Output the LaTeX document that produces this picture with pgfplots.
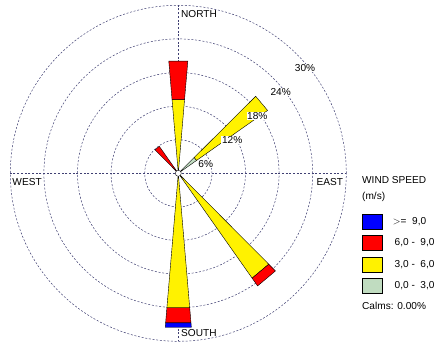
\documentclass[border=0pt]{standalone}
\usepackage{fontspec}
\setmainfont{Liberation Sans}
\usepackage{pgfplots}
\pgfplotsset{compat=1.18}
\usepgfplotslibrary{polar}
\definecolor{gridc}{RGB}{64,64,115}
\definecolor{calmgreen}{RGB}{192,220,192}
\begin{document}
\begin{tikzpicture}[font=\fontsize{10.1bp}{11.5bp}\selectfont]
\begin{polaraxis}[
  width=336bp, height=336bp, scale only axis,
  ymin=0, ymax=30, xmin=0, xmax=360,
  xtick={0,90,180,270}, ytick={6,12,18,24,30},
  xticklabels={}, yticklabels={},
  major tick length=0pt,
  grid=major,
  major grid style={gridc, line width=0.5bp, dash pattern=on 2bp off 1.7bp},
  axis line style={draw=none},
  clip=false,
  wedge/.style={draw=black, line width=0.4bp, forget plot},
  legend image code/.code={\draw[#1, draw=black, line width=0.5bp] (0bp,-7.5bp) rectangle (20.3bp,7.5bp);},
  legend style={at={(axis description cs:1.0467,0.3789)}, anchor=north west, draw=none, fill=none,
    inner sep=0pt, row sep=5.7bp, column sep=10bp, cells={anchor=west},
    nodes={inner sep=0pt, font=\fontsize{10.1bp}{11.5bp}\selectfont}},
]
% North (compass 0)
\addplot[wedge, fill=yellow] coordinates {(85.15,0) (85.15,13.2) (94.85,13.2) (94.85,0)} -- cycle;
\addplot[wedge, fill=red] coordinates {(85.15,13.2) (85.15,20.1) (94.85,20.1) (94.85,13.2)} -- cycle;
% compass 50
\addplot[wedge, fill=calmgreen] coordinates {(35.15,0) (35.15,4.0) (44.85,4.0) (44.85,0)} -- cycle;
\addplot[wedge, fill=yellow] coordinates {(35.15,4.0) (35.15,19.5) (44.85,19.5) (44.85,4.0)} -- cycle;
% compass 320
\addplot[wedge, fill=red] coordinates {(125.15,0) (125.15,5.9) (134.85,5.9) (134.85,0)} -- cycle;
% compass 140
\addplot[wedge, fill=yellow] coordinates {(305.15,0) (305.15,22.9) (314.85,22.9) (314.85,0)} -- cycle;
\addplot[wedge, fill=red] coordinates {(305.15,22.9) (305.15,24.6) (314.85,24.6) (314.85,22.9)} -- cycle;
% South (compass 180)
\addplot[wedge, fill=yellow] coordinates {(265.15,0) (265.15,24.1) (274.85,24.1) (274.85,0)} -- cycle;
\addplot[wedge, fill=red] coordinates {(265.15,24.1) (265.15,26.8) (274.85,26.8) (274.85,24.1)} -- cycle;
\addplot[wedge, fill=blue] coordinates {(265.15,26.8) (265.15,27.6) (274.85,27.6) (274.85,26.8)} -- cycle;
% calm circle
\addplot[only marks, mark=*, mark size=3bp, mark options={fill=white, draw=black, line width=0.4bp}, forget plot] coordinates {(0,0)};
\addlegendimage{fill=blue}
\addlegendentry{$>$=\ \ 9,0}
\addlegendimage{fill=red}
\addlegendentry{\,6,0 -\ \ 9,0}
\addlegendimage{fill=yellow}
\addlegendentry{\,3,0 -\ \ 6,0}
\addlegendimage{fill=calmgreen}
\addlegendentry{\,0,0 -\ \ 3,0}
\coordinate (C) at (axis cs:0,0);
\end{polaraxis}
\node[anchor=west, inner sep=0pt] at ([shift={(2.7bp,159.6bp)}]C) {NORTH};
\node[anchor=west, inner sep=0pt] at ([shift={(2.7bp,-160bp)}]C) {SOUTH};
\node[anchor=east, inner sep=0pt] at ([shift={(165bp,-8.4bp)}]C) {EAST};
\node[anchor=west, inner sep=0pt] at ([shift={(-166bp,-8.4bp)}]C) {WEST};
\node[fill=white, inner sep=0.6bp] at ([shift={(27.4bp,9.3bp)}]C) {6\%};
\node[fill=white, inner sep=0.6bp] at ([shift={(53.9bp,33.3bp)}]C) {12\%};
\node[fill=white, inner sep=0.6bp] at ([shift={(79bp,57.3bp)}]C) {18\%};
\node[fill=white, inner sep=0.6bp] at ([shift={(102.4bp,81.3bp)}]C) {24\%};
\node[fill=white, inner sep=0.6bp] at ([shift={(126.7bp,105bp)}]C) {30\%};
\node[anchor=west, inner sep=0pt] at ([shift={(183.7bp,-6.7bp)}]C) {WIND SPEED};
\node[anchor=west, inner sep=0pt] at ([shift={(183.7bp,-23.4bp)}]C) {(m/s)};
\node[anchor=west, inner sep=0pt] at ([shift={(183.7bp,-132.7bp)}]C) {Calms: 0.00\%};
\pgfresetboundingbox
\path[use as bounding box] ([shift={(-178.3bp,-168.7bp)}]C) rectangle ([shift={(258.7bp,173.3bp)}]C);
\end{tikzpicture}
\end{document}
